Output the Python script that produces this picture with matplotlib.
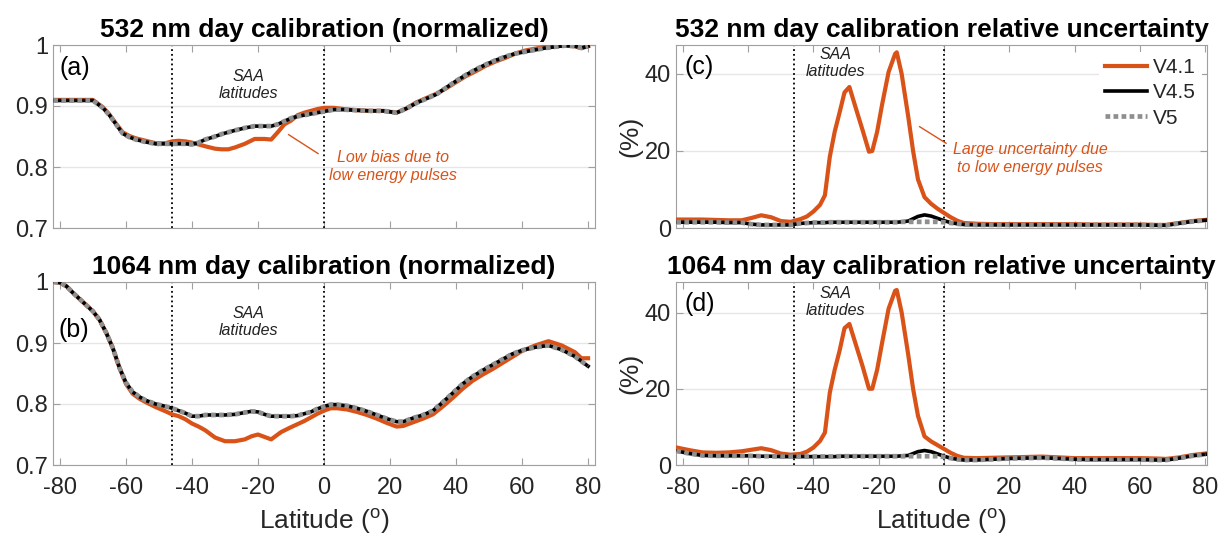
import matplotlib
matplotlib.use('Agg')
import matplotlib.pyplot as plt

plt.rcParams['font.family'] = ['Liberation Sans', 'DejaVu Sans']
plt.rcParams['mathtext.fontset'] = 'custom'
plt.rcParams['mathtext.rm'] = 'Liberation Sans'

# ---- data ----
# (a) 532 nm normalized calibration
lat_a = [-82, -70, -67, -65, -63, -61, -59, -57, -54, -51, -48, -46, -44, -42, -40,
         -38, -36, -33, -31, -29, -27, -24, -21, -18, -16, -14, -12, -10, -8, -6,
         -4, -2, 0, 3, 6, 10, 14, 18, 22, 25, 28, 31, 34, 37, 40, 43, 46, 49, 52,
         55, 58, 61, 64, 67, 70, 73, 76, 78, 80]
v45_a = [0.909, 0.909, 0.897, 0.885, 0.870, 0.855, 0.849, 0.845, 0.841, 0.838, 0.838,
         0.838, 0.838, 0.838, 0.837, 0.840, 0.845, 0.850, 0.854, 0.857, 0.860, 0.864,
         0.867, 0.867, 0.867, 0.870, 0.875, 0.880, 0.883, 0.885, 0.887, 0.889, 0.891,
         0.894, 0.894, 0.893, 0.892, 0.892, 0.889, 0.896, 0.905, 0.912, 0.919, 0.930,
         0.941, 0.951, 0.960, 0.968, 0.975, 0.981, 0.986, 0.989, 0.992, 0.995, 0.997,
         0.999, 0.998, 0.995, 0.998]
v41_a = [0.910, 0.910, 0.898, 0.886, 0.871, 0.857, 0.851, 0.847, 0.843, 0.839, 0.839,
         0.842, 0.843, 0.842, 0.840, 0.837, 0.834, 0.830, 0.829, 0.829, 0.832, 0.838,
         0.846, 0.846, 0.845, 0.857, 0.870, 0.876, 0.885, 0.889, 0.892, 0.895, 0.897,
         0.897, 0.895, 0.893, 0.892, 0.892, 0.889, 0.896, 0.906, 0.913, 0.920, 0.929,
         0.939, 0.949, 0.957, 0.966, 0.973, 0.979, 0.986, 0.991, 0.994, 0.997, 0.998,
         0.999, 0.998, 0.995, 0.998]
v5_a = v45_a  # indistinguishable from V4.5 in the figure

# (b) 1064 nm normalized calibration
lat_b = [-82, -80, -78, -76, -74, -72, -70, -68, -66, -64, -62, -60, -58, -56, -54,
         -51, -48, -46, -44, -42, -40, -38, -36, -33, -30, -27, -24, -22, -20, -18,
         -16, -13, -10, -8, -6, -4, -2, 0, 2, 4, 7, 10, 13, 16, 19, 22, 24, 27, 30,
         33, 36, 39, 42, 45, 48, 51, 54, 57, 60, 64, 68, 72, 76, 78, 80]
v45_b = [1.000, 0.999, 0.993, 0.982, 0.972, 0.962, 0.952, 0.938, 0.917, 0.892, 0.860,
         0.835, 0.820, 0.812, 0.806, 0.800, 0.796, 0.793, 0.789, 0.785, 0.780, 0.780,
         0.782, 0.782, 0.782, 0.783, 0.786, 0.788, 0.787, 0.783, 0.780, 0.780, 0.780,
         0.781, 0.784, 0.787, 0.792, 0.796, 0.799, 0.799, 0.797, 0.793, 0.788, 0.782,
         0.776, 0.771, 0.771, 0.777, 0.782, 0.789, 0.803, 0.818, 0.833, 0.845, 0.855,
         0.864, 0.873, 0.882, 0.888, 0.893, 0.896, 0.889, 0.878, 0.870, 0.862]
v41_b = [1.000, 0.999, 0.993, 0.982, 0.972, 0.962, 0.952, 0.938, 0.917, 0.892, 0.860,
         0.833, 0.817, 0.809, 0.803, 0.795, 0.788, 0.783, 0.780, 0.775, 0.768, 0.763,
         0.757, 0.745, 0.739, 0.739, 0.742, 0.747, 0.750, 0.746, 0.742, 0.754, 0.762,
         0.767, 0.772, 0.778, 0.784, 0.789, 0.793, 0.793, 0.791, 0.787, 0.782, 0.776,
         0.769, 0.763, 0.764, 0.770, 0.776, 0.783, 0.796, 0.810, 0.825, 0.838, 0.848,
         0.857, 0.867, 0.877, 0.887, 0.896, 0.903, 0.896, 0.885, 0.875, 0.875]
v5_b = v45_b  # indistinguishable from V4.5 in the figure

# (c), (d) relative uncertainty (%)
lat_u = [-82, -78, -74, -70, -66, -62, -59, -56, -53, -50, -47, -44, -42, -40, -38,
         -36.5, -35, -33.5, -32, -30.5, -29, -27, -25, -23, -22, -20.5, -19, -17,
         -15, -14.5, -13, -11, -9.5, -8, -6, -4, -2, 0, 2, 4, 6, 10, 15, 20, 25, 30,
         35, 40, 45, 50, 55, 60, 65, 68, 72, 76, 80]
v41_c = [2.2, 2.2, 2.2, 2.1, 2.0, 2.0, 2.6, 3.3, 2.8, 1.8, 1.6, 2.3, 3.0, 4.3, 6.0,
         8.5, 18.5, 25.0, 30.0, 35.2, 36.6, 31.0, 25.5, 19.8, 20.0, 25.0, 32.0, 40.5,
         45.2, 45.6, 40.0, 29.0, 20.0, 12.6, 8.0, 6.3, 5.0, 3.9, 2.8, 1.9, 1.3, 1.1,
         1.0, 1.0, 1.0, 1.0, 1.0, 1.0, 0.9, 0.9, 0.9, 0.9, 0.8, 0.8, 1.3, 1.8, 2.1]
v45_c = [1.5, 1.5, 1.5, 1.5, 1.4, 1.4, 1.0, 0.8, 0.8, 0.8, 0.8, 1.2, 1.3, 1.4, 1.4,
         1.4, 1.5, 1.5, 1.5, 1.5, 1.5, 1.5, 1.5, 1.5, 1.5, 1.5, 1.5, 1.5,
         1.5, 1.5, 1.6, 1.8, 2.4, 3.0, 3.4, 3.1, 2.5, 1.9, 1.4, 1.1, 0.9, 0.8,
         0.8, 0.8, 0.8, 0.8, 0.8, 0.8, 0.8, 0.8, 0.8, 0.8, 0.7, 0.7, 1.2, 1.7, 2.0]
v5_c = [1.5, 1.5, 1.5, 1.5, 1.4, 1.4, 1.0, 0.8, 0.8, 0.8, 0.8, 1.2, 1.3, 1.4, 1.4,
        1.4, 1.5, 1.5, 1.5, 1.5, 1.5, 1.5, 1.5, 1.5, 1.5, 1.5, 1.5, 1.5,
        1.5, 1.5, 1.6, 1.6, 1.6, 1.6, 1.6, 1.6, 1.6, 1.5, 1.3, 1.1, 0.9, 0.8,
        0.8, 0.8, 0.8, 0.8, 0.8, 0.8, 0.8, 0.8, 0.8, 0.8, 0.7, 0.7, 1.2, 1.7, 2.0]
v41_d = [4.6, 3.9, 3.3, 3.2, 3.3, 3.6, 4.0, 4.4, 3.9, 3.0, 2.7, 2.9, 3.5, 4.6, 6.3,
         8.5, 19.0, 25.0, 30.0, 35.9, 37.0, 31.5, 26.0, 20.0, 20.0, 25.0, 32.0, 41.0,
         45.7, 45.9, 40.0, 29.0, 20.0, 12.9, 7.5, 6.2, 5.2, 4.2, 3.2, 2.4, 1.9, 1.8,
         1.9, 2.0, 2.1, 2.2, 2.0, 1.8, 1.8, 1.8, 1.8, 1.8, 1.7, 1.6, 2.0, 2.6, 3.0]
v45_d = [3.7, 3.0, 2.5, 2.4, 2.4, 2.4, 2.4, 2.3, 2.3, 2.2, 2.2, 2.2, 2.2, 2.2, 2.2,
         2.2, 2.2, 2.2, 2.3, 2.3, 2.3, 2.3, 2.3, 2.3, 2.3, 2.3, 2.3, 2.3,
         2.3, 2.3, 2.4, 2.5, 3.0, 3.5, 3.8, 3.5, 2.9, 2.3, 1.8, 1.5, 1.3, 1.3,
         1.5, 1.7, 1.8, 1.9, 1.7, 1.5, 1.4, 1.4, 1.4, 1.4, 1.3, 1.3, 1.8, 2.4, 2.8]
v5_d = [3.7, 3.0, 2.5, 2.4, 2.4, 2.4, 2.4, 2.3, 2.3, 2.2, 2.2, 2.2, 2.2, 2.2, 2.2,
        2.2, 2.2, 2.2, 2.3, 2.3, 2.3, 2.3, 2.3, 2.3, 2.3, 2.3, 2.3, 2.3,
        2.3, 2.3, 2.3, 2.3, 2.3, 2.3, 2.3, 2.3, 2.3, 2.1, 1.8, 1.5, 1.3, 1.3,
        1.5, 1.7, 1.8, 1.9, 1.7, 1.5, 1.4, 1.4, 1.4, 1.4, 1.3, 1.3, 1.8, 2.4, 2.8]

saa_edges = [-46, 0]
xticks = [-80, -60, -40, -20, 0, 20, 40, 60, 80]

orange = '#D95319'
grey5 = '#8f8f8f'
spine_c = '#a0a0a0'
tick_fs = 17

fig = plt.figure(figsize=(12.21, 5.44), dpi=100)
W, H = 1221., 544.

def add_ax(l, r, t, b):
    return fig.add_axes([l/W, 1 - b/H, (r - l)/W, (b - t)/H])

ax_a = add_ax(53, 595, 45, 228)
ax_b = add_ax(53, 595, 282, 465)
ax_c = add_ax(676, 1207, 45, 228)
ax_d = add_ax(676, 1207, 282, 465)


def draw(ax, lat, v41, v45, v5):
    l1, = ax.plot(lat, v41, color=orange, lw=3, label='V4.1', zorder=3)
    l2, = ax.plot(lat, v45, color='k', lw=2.6, label='V4.5', zorder=4)
    l3, = ax.plot(lat, v5, color=grey5, lw=3.4, dashes=(1.0, 0.7),
                  label='V5', zorder=5)
    for e in saa_edges:
        ax.axvline(e, color='k', ls=':', lw=1.3, zorder=2)
    ax.set_xticks(xticks)
    ax.yaxis.grid(True, color='#e6e6e6', lw=1)
    ax.set_axisbelow(True)
    ax.tick_params(direction='in', top=True, right=True, length=5, width=0.8,
                   color=spine_c, labelcolor='#262626', labelsize=tick_fs)
    ax.tick_params(axis='x', pad=9)
    for s in ax.spines.values():
        s.set_color(spine_c)
    return [l1, l2, l3]


draw(ax_a, lat_a, v41_a, v45_a, v5_a)
draw(ax_b, lat_b, v41_b, v45_b, v5_b)
handles = draw(ax_c, lat_u, v41_c, v45_c, v5_c)
draw(ax_d, lat_u, v41_d, v45_d, v5_d)

for ax in (ax_a, ax_b):
    ax.set_xlim(-82.1, 82.1)
    ax.set_ylim(0.7, 1.0)
    ax.set_yticks([0.7, 0.8, 0.9, 1.0])
    ax.set_yticklabels(['0.7', '0.8', '0.9', '1'])
for ax in (ax_c, ax_d):
    ax.set_xlim(-82.1, 80.5)
    ax.set_yticks([0, 20, 40])
    ax.set_ylabel('(%)', fontsize=19, color='#262626', labelpad=2)
ax_c.set_ylim(0, 47.5)
ax_d.set_ylim(0, 48)

for ax in (ax_a, ax_c):
    ax.set_xticklabels([])
for ax in (ax_b, ax_d):
    ax.set_xticklabels([str(t) for t in xticks])
    ax.set_xlabel(r'Latitude ($^{\mathrm{o}}$)', fontsize=19, color='#262626',
                  labelpad=5)

titles = ['532 nm day calibration (normalized)',
          '1064 nm day calibration (normalized)',
          '532 nm day calibration relative uncertainty',
          '1064 nm day calibration relative uncertainty']
for ax, t in zip((ax_a, ax_b, ax_c, ax_d), titles):
    ax.set_title(t, fontsize=19, fontweight='bold', pad=6)

# panel letters
ax_a.text(-80, 0.962, '(a)', fontsize=18, va='center', ha='left')
ax_b.text(-80.5, 0.922, '(b)', fontsize=18, va='center', ha='left')
ax_c.text(-79.5, 41.9, '(c)', fontsize=18, va='center', ha='left')
ax_d.text(-79.5, 42.3, '(d)', fontsize=18, va='center', ha='left')

# SAA labels
saa_kw = dict(fontsize=11.5, style='italic', ha='center', va='center',
              color='#222222', linespacing=1.15)
ax_a.text(-23, 0.934, 'SAA\nlatitudes', **saa_kw)
ax_b.text(-23, 0.935, 'SAA\nlatitudes', **saa_kw)
ax_c.text(-33.4, 42.8, 'SAA\nlatitudes', **saa_kw)
ax_d.text(-33.4, 42.7, 'SAA\nlatitudes', **saa_kw)

# orange notes
note_kw = dict(fontsize=11.5, style='italic', ha='center', va='center',
               color=orange, linespacing=1.2)
ax_a.plot([-10.7, -1.8], [0.853, 0.822], color=orange, lw=1)
ax_a.text(20.8, 0.801, 'Low bias due to\nlow energy pulses', **note_kw)
ax_c.plot([-7.5, 0.6], [26.3, 22.0], color=orange, lw=1)
ax_c.text(26.3, 18.0, 'Large uncertainty due\nto low energy pulses', **note_kw)

leg = ax_c.legend(handles=handles, loc='upper right', bbox_to_anchor=(1.01, 1.02),
                  fontsize=15, handlelength=2.0, handletextpad=0.3,
                  labelspacing=0.3, borderpad=0.3, frameon=True,
                  fancybox=False, edgecolor='none', facecolor='white',
                  framealpha=1)
for txt in leg.get_texts():
    txt.set_color('#262626')

fig.savefig('out.png', dpi=100)
